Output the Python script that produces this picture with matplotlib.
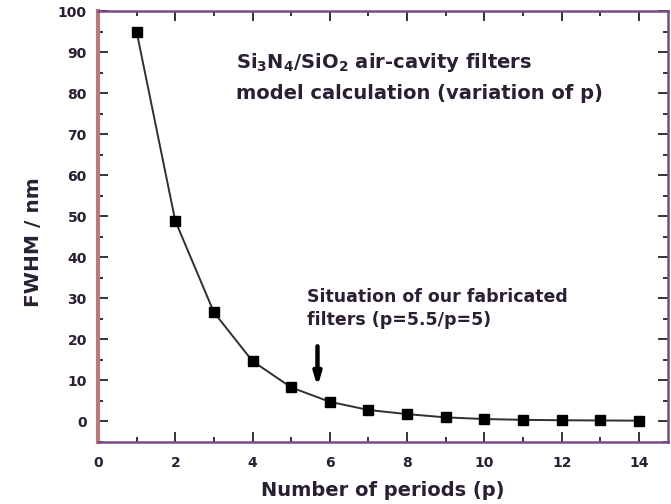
"""FWHM of Si3N4/SiO2 air-cavity filters versus number of periods."""

import matplotlib.pyplot as plt
from matplotlib.ticker import MultipleLocator

periods = [1, 2, 3, 4, 5, 6, 7, 8, 9, 10, 11, 12, 13, 14]
fwhm_nm = [95.0, 48.9, 26.6, 14.7, 8.3, 4.8, 2.8, 1.8, 1.0, 0.6, 0.4, 0.3, 0.25, 0.2]

# fabricated filters sit around p = 5.5
arrow_x = 5.68
arrow_top, arrow_tip = 19.0, 7.8

plt.rcParams["font.family"] = ["DejaVu Sans"]
plt.rcParams["font.weight"] = "bold"
plt.rcParams["mathtext.default"] = "bf"

ink = "#2a1f33"

fig = plt.figure(figsize=(6.71, 5.04), dpi=100)
ax = fig.add_axes([0.146, 0.123, 0.8495, 0.855])

ax.plot(periods, fwhm_nm, "-", color="#2a3328", linewidth=1.4, zorder=2)
ax.plot(periods, fwhm_nm, "s", color="black", markersize=6.5, zorder=3)

ax.annotate(
    "",
    xy=(arrow_x, arrow_tip),
    xytext=(arrow_x, arrow_top),
    arrowprops=dict(arrowstyle="-|>,head_width=0.18,head_length=0.6",
                    color="black", linewidth=3.2, mutation_scale=12),
)

ax.text(3.56, 86.1, r"Si$_{3}$N$_{4}$/SiO$_{2}$ air-cavity filters", fontsize=14,
        fontweight="bold", color=ink, va="baseline")
ax.text(3.56, 78.6, "model calculation (variation of p)", fontsize=14,
        fontweight="bold", color=ink, va="baseline")
ax.text(5.40, 29.2, "Situation of our fabricated", fontsize=12.5,
        fontweight="bold", color=ink, va="baseline")
ax.text(5.40, 23.6, "filters (p=5.5/p=5)", fontsize=12.5,
        fontweight="bold", color=ink, va="baseline")

ax.set_xlim(0, 14.75)
ax.set_ylim(-5, 100)
ax.xaxis.set_major_locator(MultipleLocator(2))
ax.xaxis.set_minor_locator(MultipleLocator(1))
ax.yaxis.set_major_locator(MultipleLocator(10))
ax.yaxis.set_minor_locator(MultipleLocator(5))
ax.tick_params(which="both", direction="in", top=True, right=True,
               labelsize=10, width=1.4, color="#333333", labelcolor=ink)
ax.tick_params(which="major", length=7)
ax.tick_params(which="minor", length=3.5)
ax.tick_params(axis="x", pad=10)
ax.tick_params(axis="y", pad=8)
for lab in ax.get_xticklabels() + ax.get_yticklabels():
    lab.set_fontweight("bold")

ax.spines["left"].set_color("#b97a7a")
ax.spines["left"].set_linewidth(3)
for side in ("top", "bottom", "right"):
    ax.spines[side].set_color("#7a4a86")
    ax.spines[side].set_linewidth(1.8)

ax.set_xlabel("Number of periods (p)", fontsize=14, fontweight="bold",
              color=ink, labelpad=8)
ax.set_ylabel("FWHM / nm", fontsize=14.5, fontweight="bold", color=ink)
ax.yaxis.set_label_coords(-0.0965, 0.464)

fig.savefig("out.png", dpi=100)
